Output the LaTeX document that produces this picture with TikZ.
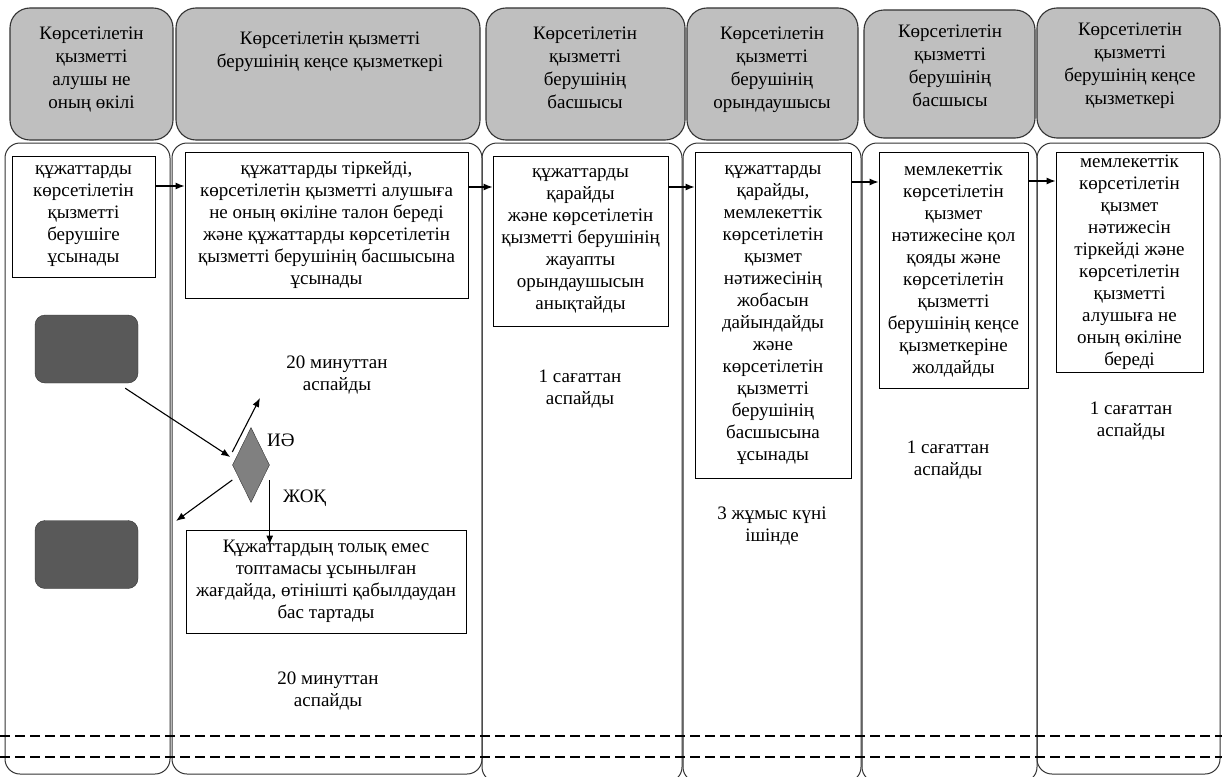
\documentclass[tikz,border=0pt]{standalone}
\usepackage{fontspec}
\setmainfont{Liberation Serif}
\usepackage{tikz}
\colorlet{headgray}{black!25}
\colorlet{boxdark}{black!65}
\colorlet{diadark}{black!50}
\usetikzlibrary{arrows.meta,shapes.geometric}

\begin{document}
\begin{tikzpicture}[
    x=1pt, y=-1pt,
    font=\fontsize{19}{22}\selectfont,
    lane/.style={draw=black!80, line width=1pt, rounded corners=15pt},
    head/.style={draw=black!80, fill=headgray, line width=1.1pt, rounded corners=20pt},
    headtext/.style={anchor=north, align=center, inner sep=0pt, font=\fontsize{19}{23}\selectfont},
    box/.style={draw, line width=0.9pt, align=center, inner sep=1pt},
    darkbox/.style={draw=black!80, fill=boxdark, rounded corners=10pt, minimum width=103pt, minimum height=68pt},
    decision/.style={diamond, draw=black!80, fill=diadark, minimum width=37pt, minimum height=75pt, inner sep=0pt},
    timetext/.style={anchor=north, align=center, inner sep=0pt},
    arrowline/.style={line width=1.1pt, -{Latex[length=9pt,width=7pt]}},
    dashline/.style={line width=1.5pt, dash pattern=on 10pt off 5pt},
    ]

\useasboundingbox (0,0) rectangle (1222,776);

% lanes
\draw[lane] (5,143) rectangle (170,774);
\draw[lane] (172,143) rectangle (482,774);
\draw[lane] (482,143) rectangle (682,782);
\draw[lane] (683,143) rectangle (861,782);
\draw[lane] (862,143) rectangle (1037,782);
\draw[lane] (1037,143) rectangle (1220,774);

% headers
\draw[head] (10,8) rectangle (173,140);
\draw[head] (176,8) rectangle (480,140);
\draw[head] (486,8) rectangle (685,140);
\draw[head] (687,8) rectangle (858,140);
\draw[head] (864,10) rectangle (1035,138);
\draw[head] (1037,8) rectangle (1220,138);

\node[headtext] (h1) at (91.5,27) {Көрсетілетін\\қызметті\\алушы не\\оның  өкілі};
\node[headtext] (h2) at (330,32) {Көрсетілетін  қызметті\\берушінің  кеңсе қызметкері};
\node[headtext] (h3) at (585,27) {Көрсетілетін\\қызметті\\берушінің\\басшысы};
\node[headtext] (h4) at (772,27) {Көрсетілетін\\қызметті\\берушінің\\орындаушысы};
\node[headtext] (h5) at (950,25) {Көрсетілетін\\қызметті\\берушінің\\басшысы};
\node[headtext] (h6) at (1130,23) {Көрсетілетін\\қызметті\\берушінің  кеңсе\\қызметкері};

\draw[dashline] (0,736) -- (1222,736);
\draw[dashline] (0,757) -- (1222,757);

% steps
\node[box, minimum width=143pt, minimum height=121pt] (give) at (83.5,216.5)
    {құжаттарды\\көрсетілетін\\қызметті\\берушіге\\ұсынады};
\node[box, minimum width=283pt, minimum height=146pt] (register) at (326.5,225)
    {құжаттарды тіркейді,\\көрсетілетін  қызметті алушыға\\не оның өкілiне  талон береді\\және құжаттарды  көрсетілетін\\қызметті берушінің  басшысына\\ұсынады};
\node[box, minimum width=175pt, minimum height=170pt] (assign) at (580.5,241)
    {құжаттарды\\қарайды\\және  көрсетілетін\\қызметті берушінің\\жауапты\\орындаушысын\\анықтайды};
\node[box, minimum width=156pt, minimum height=326pt] (prepare) at (773,315)
    {құжаттарды\\қарайды,\\мемлекеттік\\көрсетілетін\\қызмет\\нәтижесінің\\жобасын\\дайындайды\\және\\көрсетілетін\\қызметті\\берушінің\\басшысына\\ұсынады};
\node[box, minimum width=149pt, minimum height=236pt] (sign) at (953.5,270)
    {мемлекеттік\\көрсетілетін\\қызмет\\нәтижесіне  қол\\қояды және\\көрсетілетін\\қызметті\\берушінің  кеңсе\\қызметкеріне\\жолдайды};
\node[box, minimum width=147pt, minimum height=220pt] (issue) at (1129.5,262)
    {мемлекеттік\\көрсетілетін\\қызмет\\нәтижесін\\тіркейді  және\\көрсетілетін\\қызметті\\алушыға не\\оның  өкіліне\\береді};
\node[box, minimum width=280pt, minimum height=103pt] (refuse) at (326,581.5)
    {Құжаттардың толық емес\\топтамасы ұсынылған\\жағдайда, өтінішті  қабылдаудан\\бас тартады};

\node[darkbox] (start) at (86.5,349) {};
\node[darkbox] (stop) at (86.5,554.5) {};
\node[decision] (check) at (251,465) {};

\node[anchor=west, inner sep=0pt] (yes) at (267,440) {ИӘ};
\node[anchor=west, inner sep=0pt] (no) at (283,498) {ЖОҚ};

% times
\node[timetext] (t1) at (337,356) {20 минуттан\\аспайды};
\node[timetext] (t2) at (580,370) {1 сағаттан\\аспайды};
\node[timetext] (t3) at (772,507) {3 жұмыс күні\\ішінде};
\node[timetext] (t4) at (948,441) {1 сағаттан\\аспайды};
\node[timetext] (t5) at (1131,402) {1 сағаттан\\аспайды};
\node[timetext] (t6) at (328,672) {20 минуттан\\аспайды};

% arrows
\draw[arrowline] ([yshift=30.5pt]give.east) -- ([yshift=30.5pt]give.east -| register.west);
\draw[arrowline] ([yshift=38pt]register.east) -- ([yshift=38pt]register.east -| assign.west);
\draw[arrowline] ([yshift=54pt]assign.east) -- ([yshift=54pt]assign.east -| prepare.west);
\draw[arrowline] ([yshift=133pt]prepare.east) -- ([yshift=133pt]prepare.east -| sign.west);
\draw[arrowline] ([yshift=89pt]sign.east) -- ([yshift=89pt]sign.east -| issue.west);

\coordinate (yes end) at (260,398);
\coordinate (no end) at (176,521);
\draw[arrowline] ([xshift=-13pt,yshift=-5pt]start.south east) -- ([xshift=-2pt,yshift=8pt]check.west);
\draw[arrowline] ([yshift=13pt]check.west) -- (yes end);
\draw[arrowline] ([yshift=-15pt]check.west) -- (no end);
\draw[arrowline] ([yshift=-15pt]check.east) -- ([yshift=-15pt]check.east |- refuse.north);

\end{tikzpicture}
\end{document}
